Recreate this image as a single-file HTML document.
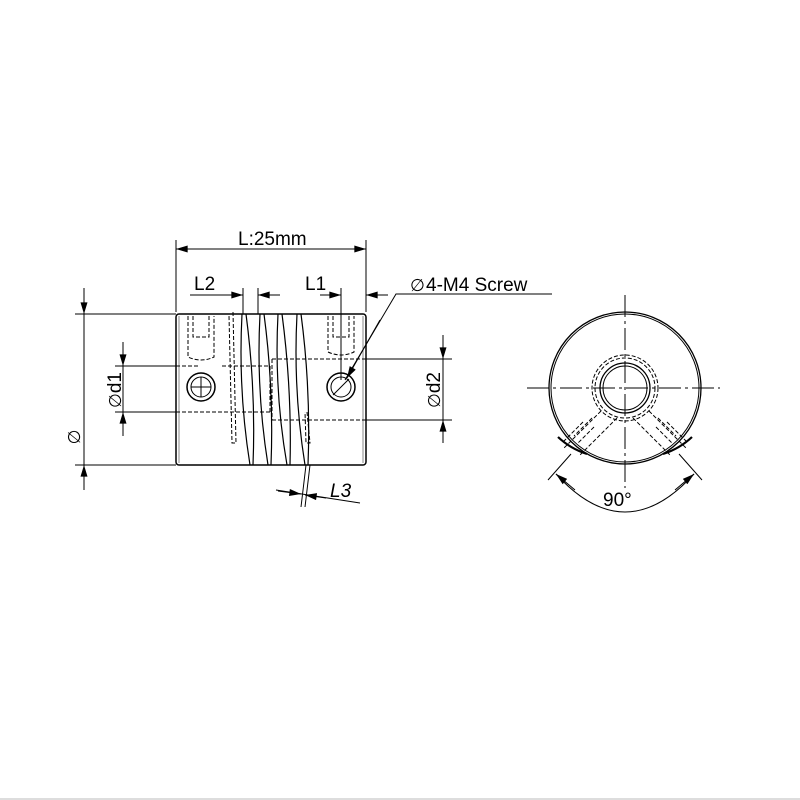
<!DOCTYPE html>
<html><head><style>body{margin:0;background:#fff}svg{display:block}</style></head>
<body>
<svg width="800" height="800" viewBox="0 0 800 800" xmlns="http://www.w3.org/2000/svg" font-family="Liberation Sans, sans-serif">
<defs>
<marker id="a" viewBox="0 0 10 6" refX="10" refY="3" markerWidth="17" markerHeight="7" markerUnits="userSpaceOnUse" orient="auto"><path d="M0,0L10,3L0,6Z" fill="#000"/></marker>
</defs>
<rect width="800" height="800" fill="#fff"/>
<g stroke="#000" fill="none" stroke-width="1">
<rect x="176" y="314" width="190" height="151" rx="3" stroke-width="1.5"/>
<line x1="179" y1="316" x2="179" y2="463" stroke="#888"/>
<line x1="363" y1="316" x2="363" y2="463" stroke="#888"/>
<g stroke-width="1.2">
<path d="M242,314 Q238,390 250,465 M246,314 Q256,390 253,465"/>
<path d="M260,314 Q256,390 268,465 M264,314 Q274,390 271,465"/>
<path d="M278,314 Q274,390 287,465 M282,314 Q292,390 290,465"/>
<path d="M297,314 Q293,390 305,465 M301,314 Q311,390 308,465"/>
</g>
<g stroke-dasharray="4,2">
<path d="M176,366 H200 M222,366 H270 M176,412 H270"/>
<path d="M272,359 H366 M272,420 H366 M272,359 V420 M270,366 V412"/>
<path d="M188,316 V357 Q201,363 214,357 V316 M193,316 V337 H209 V316"/>
<path d="M328,316 V352 Q341,358 354,352 V316 M333,316 V337 H349 V316"/>
<path d="M233,312 L236,443 H232 L229,316"/>
<path d="M307,412 L310,443 H306 L305,412"/>
</g>
<circle cx="201" cy="387" r="14" stroke-width="1.5"/><circle cx="201" cy="387" r="10"/>
<path d="M191,387H211M201,377V397"/>
<circle cx="341" cy="387" r="14" stroke-width="1.5"/><circle cx="341" cy="387" r="10"/>
<path d="M333,395L349,379"/>
<path d="M176,240V312M366,240V312"/>
<line x1="176" y1="249" x2="366" y2="249"/>
<line x1="200" y1="249" x2="176" y2="249" marker-end="url(#a)"/>
<line x1="340" y1="249" x2="366" y2="249" marker-end="url(#a)"/>
<path d="M243,288V314M258,288V314M341,288V380M190,295H243M258,295H280M322,295H341M366,295H388"/>
<line x1="222" y1="295" x2="243" y2="295" marker-end="url(#a)"/>
<line x1="280" y1="295" x2="258" y2="295" marker-end="url(#a)"/>
<line x1="320" y1="295" x2="341" y2="295" marker-end="url(#a)"/>
<line x1="388" y1="295" x2="366" y2="295" marker-end="url(#a)"/>
<path d="M75,314H176M75,465H176M84,288V490"/>
<line x1="84" y1="288" x2="84" y2="314" marker-end="url(#a)"/>
<line x1="84" y1="490" x2="84" y2="465" marker-end="url(#a)"/>
<path d="M115,366H176M115,412H176M123,342V436"/>
<line x1="123" y1="342" x2="123" y2="366" marker-end="url(#a)"/>
<line x1="123" y1="436" x2="123" y2="412" marker-end="url(#a)"/>
<path d="M366,359H452M366,420H452M443,335V443"/>
<line x1="443" y1="335" x2="443" y2="359" marker-end="url(#a)"/>
<line x1="443" y1="443" x2="443" y2="420" marker-end="url(#a)"/>
<path d="M552,294H396L345,380"/>
<line x1="380" y1="320" x2="347" y2="378" marker-end="url(#a)"/>
<path d="M306,465L301,507M310,465L305,507M276,490L360,503"/>
<line x1="278" y1="491" x2="301" y2="494" marker-end="url(#a)"/>
<line x1="326" y1="498" x2="305" y2="495" marker-end="url(#a)"/>
<circle cx="625" cy="388" r="76" stroke-width="1.3"/>
<circle cx="625" cy="388" r="74"/>
<circle cx="625" cy="388" r="33" stroke-dasharray="4,2"/>
<circle cx="625" cy="388" r="30" stroke-dasharray="4,2"/>
<circle cx="625" cy="388" r="25" stroke-width="1.3"/>
<circle cx="625" cy="388" r="22"/>
<g stroke-dasharray="22,4,3,4">
<path d="M527,388H720M625,295V488"/>
</g>
<g stroke-dasharray="4,2">
<path d="M601,411L563,449M617,418L580,455M583,422L564,441M594,427L578,443M592,418L574,436"/>
<path d="M649,411L687,449M633,418L670,455M667,422L686,441M656,427L672,443M658,418L676,436"/>
</g>
<path d="M558,437A76,76 0 0 0 587,454M692,437A76,76 0 0 1 663,454" stroke-width="2.2"/>
<path d="M571,454L548,480M679,454L702,480"/>
<path d="M556,474Q625,550 694,474"/>
<line x1="575" y1="490" x2="556" y2="474" marker-end="url(#a)"/>
<line x1="675" y1="490" x2="694" y2="474" marker-end="url(#a)"/>
<line x1="0" y1="799" x2="800" y2="799" stroke="#bbb"/>
</g>
<g fill="#000" font-size="19">
<text x="238" y="245">L:25mm</text>
<text x="194" y="290">L2</text>
<text x="305" y="290">L1</text>
<text x="410" y="291" font-family="DejaVu Sans, sans-serif" font-size="17">∅</text>
<text x="426" y="291">4-M4 Screw</text>
<text x="330" y="497" font-style="italic">L3</text>
<text x="603" y="506">90°</text>
<text transform="translate(121,390) rotate(-90)" text-anchor="middle"><tspan font-family="DejaVu Sans, sans-serif" font-size="17">∅</tspan>d1</text>
<text transform="translate(440,390) rotate(-90)" text-anchor="middle"><tspan font-family="DejaVu Sans, sans-serif" font-size="17">∅</tspan>d2</text>
<text transform="translate(80,437) rotate(-90)" text-anchor="middle" font-family="DejaVu Sans, sans-serif" font-size="17">∅</text>
</g>
</svg>
</body></html>
